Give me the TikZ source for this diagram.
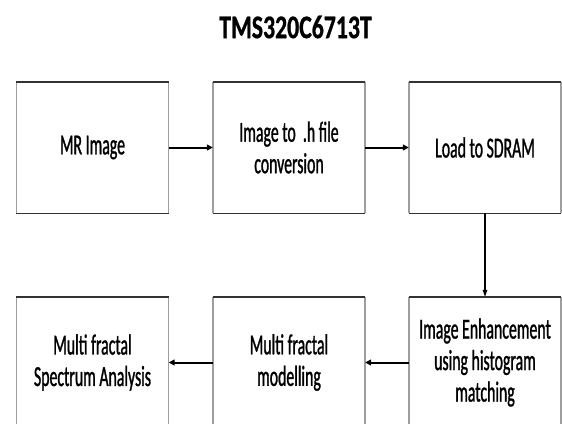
\documentclass[tikz,border=0pt]{standalone}
\usepackage{fontspec}
\usetikzlibrary{arrows.meta}
\newfontfamily\bodyfont{Carlito}[FakeStretch=0.545, FakeBold=1]
\newfontfamily\titlefont{Carlito}[FakeStretch=0.72, FakeBold=0.8]
\tikzset{
  box/.style={minimum width=152pt, minimum height=131pt, inner sep=0pt, align=center,
    font=\bodyfont\fontsize{29}{31.5}\selectfont},
  sideline/.style={draw=black!38, line width=1.5pt},
  hline/.style={draw=black!80, line width=1.4pt},
  flow/.style={-{Triangle[length=6pt,width=6pt]}, line width=2pt},
  vflow/.style={-{Triangle[length=7pt,width=4.5pt]}, line width=1.1pt},
}
\begin{document}
\begin{tikzpicture}[x=1pt,y=-1pt]
\useasboundingbox (0,0) rectangle (562,423);
\clip (0,0) rectangle (562,423);
\fill[white] (0,0) rectangle (562,423);
\node[font=\titlefont\bfseries\fontsize{33}{38}\selectfont] (title) at (295.5,27) {TMS320C6713T};
\node[box] (b1) at (92.5,147.5) {MR Image};
\node[box] (b2) at (289,147.5) {Image to\ \ .h file\\conversion};
\node[box] (b3) at (485,147.5) {Load to SDRAM};
\node[box] (b4) at (485,362.5) {Image Enhancement\\using histogram\\matching};
\node[box] (b5) at (289,362.5) {Multi fractal\\modelling};
\node[box] (b6) at (92.5,362.5) {Multi fractal\\Spectrum Analysis};
\foreach \n in {b1,b2,b3,b4,b5,b6}{
  \draw[sideline] (\n.north west) -- (\n.south west);
  \draw[sideline] (\n.north east) -- (\n.south east);
  \draw[hline] (\n.north west) -- (\n.north east);
  \draw[hline] (\n.south west) -- (\n.south east);
}
\draw[flow] (b1) -- (b2);
\draw[flow] (b2) -- (b3);
\draw[vflow] (b3) -- (b4);
\draw[flow] (b4) -- (b5);
\draw[flow] (b5) -- (b6);
\end{tikzpicture}
\end{document}
